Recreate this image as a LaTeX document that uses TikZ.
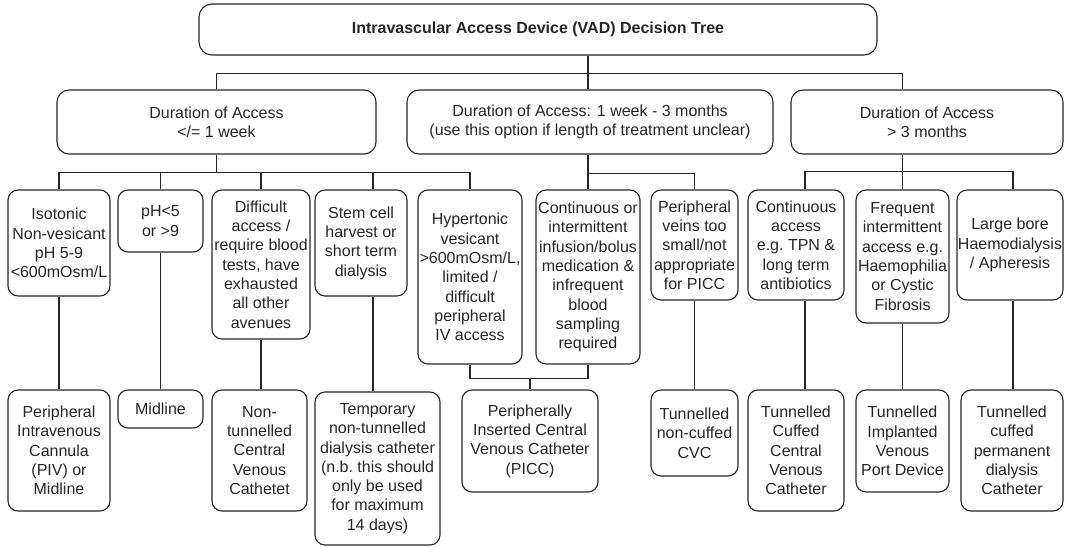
\documentclass[tikz,border=0pt]{standalone}
\usepackage{fontspec}
\setmainfont{Liberation Sans}
\usetikzlibrary{calc}

\begin{document}
\begin{tikzpicture}[x=1pt, y=-1pt, line width=1.1pt, draw=black!85,
                    vbox/.style={draw=black!85, rounded corners=10pt, align=center, inner sep=0pt,
                                 text=black!85, font=\fontsize{16}{19.3}\selectfont},
                    boxsize/.style 2 args={minimum width=#1, minimum height=#2},
                    link/.style={draw=black!85, line width=1.1pt}]

  \useasboundingbox (0,0) rectangle (1065,546);

  % root
  \node[vbox, rounded corners=13pt, boxsize={678pt}{51pt}] (title) at (538,29.5)
    {\textbf{Intravascular Access Device (VAD) Decision Tree}};

  % duration of access
  \node[vbox, rounded corners=12pt, boxsize={319pt}{64pt}] (dshort) at (216.5,122) {Duration of Access\\</= 1 week};
  \node[vbox, rounded corners=12pt, boxsize={366pt}{64pt}] (dmid)   at (590,122)
    {Duration of Access: 1 week - 3 months\\(use this option if length of treatment unclear)};
  \node[vbox, rounded corners=12pt, boxsize={272pt}{64pt}] (dlong)  at (927,122) {Duration of Access\\> 3 months};

  % indications
  \node[vbox, boxsize={102pt}{106pt}] (iso)     at (59,243)    {Isotonic\\Non-vesicant\\pH 5-9\\<600mOsm/L};
  \node[vbox, boxsize={85pt}{62pt}]   (ph)      at (160.5,221) {pH<5\\or >9};
  \node[vbox, boxsize={98pt}{149pt}]  (diff)    at (261,264.5)
    {Difficult\\access /\\require blood\\tests, have\\exhausted\\all other\\avenues};
  \node[vbox, boxsize={92pt}{106pt}]  (stem)    at (361,243)   {Stem cell\\harvest or\\short term\\dialysis};
  \node[vbox, boxsize={104pt}{174pt}] (hyper)   at (470,277)
    {Hypertonic\\vesicant\\>600mOsm/L,\\limited /\\difficult\\peripheral\\IV access};
  \node[vbox, boxsize={104pt}{174pt}] (cont)    at (588,277)
    {Continuous or\\intermittent\\infusion/bolus\\medication \&\\infrequent\\blood\\sampling\\required};
  \node[vbox, boxsize={87pt}{110pt}]  (veins)   at (694.5,245)
    {Peripheral\\veins too\\small/not\\appropriate\\for PICC};
  \node[vbox, boxsize={96pt}{110pt}]  (contacc) at (796,245)
    {Continuous\\access\\e.g.\ TPN \&\\long term\\antibiotics};
  \node[vbox, boxsize={93pt}{133pt}]  (freq)    at (902.5,256.5)
    {Frequent\\intermittent\\access e.g.\\Haemophilia\\or Cystic\\Fibrosis};
  \node[vbox, boxsize={106pt}{110pt}] (bore)    at (1010,245)  {Large bore\\Haemodialysis\\/ Apheresis};

  % devices
  \node[vbox, boxsize={102pt}{121pt}] (piv)     at (59,450.5)
    {Peripheral\\Intravenous\\Cannula\\(PIV) or\\Midline};
  \node[vbox, boxsize={85pt}{38pt}]   (midline) at (160.5,409) {Midline};
  \node[vbox, boxsize={95pt}{121pt}]  (nontun)  at (259.5,450.5)
    {Non-\\tunnelled\\Central\\Venous\\Cathetet};
  \node[vbox, boxsize={125pt}{153pt}] (temp)    at (377.5,468.5)
    {Temporary\\non-tunnelled\\dialysis catheter\\(n.b.\ this should\\only be used\\for maximum\\14 days)};
  \node[vbox, boxsize={136pt}{102pt}] (picc)    at (530,441)
    {Peripherally\\Inserted Central\\Venous Catheter\\(PICC)};
  \node[vbox, boxsize={87pt}{86pt}]   (tnc)     at (694.5,433)  {Tunnelled\\non-cuffed\\CVC};
  \node[vbox, boxsize={96pt}{121pt}]  (tcc)     at (796,450.5)
    {Tunnelled\\Cuffed\\Central\\Venous\\Catheter};
  \node[vbox, boxsize={93pt}{102pt}]  (port)    at (902.5,441)
    {Tunnelled\\Implanted\\Venous\\Port Device};
  \node[vbox, boxsize={102pt}{121pt}] (perm)    at (1012,450.5)
    {Tunnelled\\cuffed\\permanent\\dialysis\\Catheter};

  % bus lines
  \path (title.south) ++(0,18) coordinate (bus0);
  \path (dshort.south) ++(0,18) coordinate (bus1);
  \path (dmid.south) ++(0,19) coordinate (bus2);
  \path (dlong.south) ++(0,17) coordinate (bus3);
  \path (hyper.south) ++(0,14) coordinate (join);

  \draw[link] (title.south -| cont.north) -- (dmid.north -| cont.north);
  \draw[link] (dshort.north) |- (bus0 -| cont.north) -| (dlong.north -| freq.north);

  \draw[link] (dshort.south) -- (bus1);
  \draw[link] (iso.north) |- (bus1) -| (hyper.north);
  \foreach \n in {ph,diff}
    \draw[link] (\n.north) -- (\n.north |- bus1);
  \draw[link] ([xshift=12pt]stem.north) -- ([xshift=12pt]stem.north |- bus1);

  \draw[link] (dmid.south -| cont.north) -- (cont.north);
  \draw[link] (cont.north |- bus2) -| (veins.north);

  \draw[link] (dlong.south -| freq.north) -- (freq.north);
  \draw[link] ([xshift=9pt]contacc.north) |- (bus3 -| freq.north) -| ([xshift=3pt]bore.north);

  % indication to device
  \foreach \a/\b in {iso/piv,ph/midline,diff/nontun,veins/tnc,freq/port}
    \draw[link] (\a.south) -- (\a.south |- \b.north);
  \draw[link] ([xshift=12pt]stem.south) -- ([xshift=12pt]stem.south |- temp.north);
  \draw[link] ([xshift=9pt]contacc.south) -- ([xshift=9pt]contacc.south |- tcc.north);
  \draw[link] ([xshift=3pt]bore.south) -- ([xshift=3pt]bore.south |- perm.north);
  \draw[link] (hyper.south) -- (join) -| (cont.south);
  \draw[link] (picc.north) -- (picc.north |- join);
\end{tikzpicture}
\end{document}
